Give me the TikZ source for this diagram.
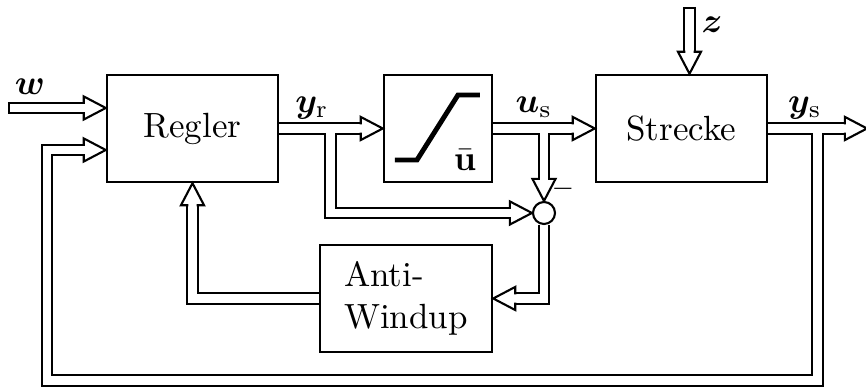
\documentclass[tikz,border=0pt]{standalone}
\usepackage{bm}
\usetikzlibrary{calc}
\pgfdeclarelayer{bg}
\pgfsetlayers{bg,main}
\newcommand\pipenet[2]{%
 \draw[#1, shorten <=#2, shorten >=6.3pt] (ws) -- (ws -| reg.west);
 \draw[#1, shorten <=#2, shorten >=6.3pt] (zs) -- (zs |- str.north);
 \draw[#1, shorten >=6.3pt] (reg.east) -- (sat.west);
 \draw[#1, shorten >=6.3pt] (yrb) -- (yrc) -- (sum.west);
 \draw[#1, shorten >=6.3pt] (sat.east) -- (str.west);
 \draw[#1, shorten >=6.3pt] (sum |- sat.east) -- (sum.north);
 \draw[#1, shorten >=6.3pt] (sum.south) -- (awc) -- (aw.east);
 \draw[#1, shorten >=6.3pt] (aw.west) -- (awl) -- (reg.south);
 \draw[#1, shorten >=6.3pt] (str.east) -- (ysend);
 \draw[#1, shorten >=6.3pt] (ysb) -- (fbR) -- (fbL) -- (fbT) -- (fbT -| reg.west);
}
\begin{document}
\begin{tikzpicture}[x=0.2857pt,y=-0.2857pt,
  blk/.style={draw, line width=0.7pt, inner sep=0pt},
  pipeout/.style={line width=3.6pt, black, line join=miter},
  pipein/.style={line width=2.4pt, white, line join=miter},
  lbl/.style={inner sep=0pt},
  head/.pic={\filldraw[fill=white, line width=0.6pt, line join=miter]
     (-6.3pt,1.2pt) -- (-6.3pt,3.3pt) -- (0,0) -- (-6.3pt,-3.3pt) -- (-6.3pt,-1.2pt);}
]
\useasboundingbox (0,0) rectangle (866,387);
% blocks
\node[blk, minimum width=171*0.2857pt, minimum height=107*0.2857pt] (reg) at (192.5,128.5) {Regler};
\node[blk, minimum width=108*0.2857pt, minimum height=107*0.2857pt] (sat) at (438,128.5) {};
\node[blk, minimum width=171*0.2857pt, minimum height=107*0.2857pt] (str) at (681.5,128.5) {Strecke};
\node[blk, minimum width=172*0.2857pt, minimum height=107*0.2857pt, align=left] (aw) at (406,298.5) {Anti-\\Windup};
\node[draw, circle, line width=0.6pt, minimum size=22*0.2857pt, inner sep=0pt] (sum) at (544,213) {};
% saturation characteristic
\draw[line width=1.4pt] (395,160) -- (417,160) -- (458,95) -- (480,95);
\node[lbl] (ubar) at (465,160) {$\bar{\mathbf{u}}$};
% coordinates
\coordinate (ws) at (9,108);
\coordinate (zs) at (689.5,8);
\coordinate (yrb) at (330.5,128.5);
\coordinate (yrc) at (330.5,213);
\coordinate (ysb) at (817.5,128.5);
\coordinate (fbR) at (817.5,380.5);
\coordinate (fbL) at (47,380.5);
\coordinate (fbT) at (47,150);
\coordinate (awc) at (544,298.5);
\coordinate (awl) at (192.5,298.5);
\coordinate (ysend) at (867,128.5);
% pipes
\begin{pgfonlayer}{bg}
\pipenet{pipeout}{-0.3pt}
\pipenet{pipein}{0.3pt}
\end{pgfonlayer}
% heads
\pic at (ws -| reg.west) {head};
\pic[rotate=-90] at (zs |- str.north) {head};
\pic at (sat.west) {head};
\pic at (sum.west) {head};
\pic at (str.west) {head};
\pic[rotate=-90] at (sum.north) {head};
\pic[rotate=180] at (aw.east) {head};
\pic[rotate=90] at (reg.south) {head};
\pic at (ysend) {head};
\pic at (fbT -| reg.west) {head};
% labels
\node[lbl] (wl) at (30,87) {$\bm{w}$};
\node[lbl] (zl) at (712,25) {$\bm{z}$};
\node[lbl] (yrl) at (312,108) {$\bm{y}_\mathrm{r}$};
\node[lbl] (usl) at (534,107) {$\bm{u}_\mathrm{s}$};
\node[lbl] (ysl) at (805,108) {$\bm{y}_\mathrm{s}$};
\node[lbl] (minus) at (563,192) {\footnotesize\bfseries --};
\end{tikzpicture}
\end{document}
